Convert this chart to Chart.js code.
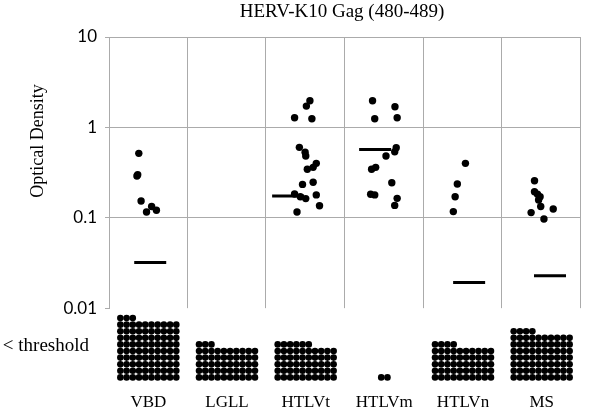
<!DOCTYPE html>
<html lang="en">
<head>
<meta charset="UTF-8">
<title>HERV-K10 Gag (480-489)</title>
<script src="https://cdn.jsdelivr.net/npm/chart.js"></script>
<style>
  html, body { margin: 0; padding: 0; background: #fff; }
  #wrap { width: 600px; height: 411px; }
</style>
</head>
<body>
<div id="wrap"><canvas id="odChart"></canvas></div>
<script>
// groups along the x axis
const categories = ['VBD', 'LGLL', 'HTLVt', 'HTLVm', 'HTLVn', 'MS'];

// optical density of responders, with the horizontal jitter (in category widths)
const vbdOD      = [0.516, 0.29, 0.30, 0.153, 0.116, 0.133, 0.121];
const vbdJitter  = [-0.121, -0.145, -0.135, -0.092, -0.023, 0.042, 0.103];
const lgllOD     = [];
const lgllJitter = [];
const htlvtOD     = [1.277, 1.72, 1.97, 1.245, 0.601, 0.530, 0.482, 0.344, 0.361, 0.400, 0.234, 0.247, 0.183, 0.171, 0.163, 0.179, 0.136, 0.116];
const htlvtJitter = [-0.141, 0.009, 0.054, 0.079, -0.080, -0.007, 0.001, 0.021, 0.095, 0.135, -0.040, 0.095, -0.141, -0.068, 0.001, 0.135, 0.176, -0.110];
const htlvmOD     = [1.97, 1.245, 1.69, 1.277, 0.596, 0.537, 0.482, 0.361, 0.344, 0.244, 0.182, 0.179, 0.164, 0.137];
const htlvmJitter = [-0.150, -0.122, 0.135, 0.163, 0.151, 0.132, 0.021, -0.110, -0.162, 0.095, -0.174, -0.122, 0.163, 0.132];
const htlvnOD     = [0.400, 0.236, 0.171, 0.117];
const htlvnJitter = [0.031, -0.072, -0.100, -0.123];
const msOD        = [0.257, 0.194, 0.182, 0.171, 0.157, 0.133, 0.114, 0.125, 0.097];
const msJitter    = [-0.091, -0.091, -0.053, -0.020, -0.039, -0.012, -0.134, 0.147, 0.029];

// medians (all samples, incl. below threshold) and their horizontal shift
const medians     = [0.032, null, 0.174, 0.571, 0.0192, 0.0228];
const medianShift = [0.024, 0, -0.223, -0.117, 0.078, 0.106];

// number of samples below threshold per group
const belowCounts = [93, 53, 56, 2, 54, 74];

const yTicks = [0.01, 0.1, 1, 10];
const yTickLabels = ['0.01', '0.1', '1', '10'];

const gridGray = '#ababab';
const serif = '"Liberation Serif", "Times New Roman", serif';
const sans = 'Lato, "Noto Sans", sans-serif';

const groups = [
  [vbdOD, vbdJitter], [lgllOD, lgllJitter], [htlvtOD, htlvtJitter],
  [htlvmOD, htlvmJitter], [htlvnOD, htlvnJitter], [msOD, msJitter]
];

const responders = [];
groups.forEach(([vals, jit], i) => {
  vals.forEach((v, k) => responders.push({x: i + 0.5 + jit[k], y: v}));
});

const medianPts = [];
medians.forEach((m, i) => {
  if (m !== null) medianPts.push({x: i + 0.5 + medianShift[i], y: m});
});

// dot stacks: 10 per row, filled from the bottom
const perRow = 10;
const colStep = 0.079;
const belowPts = [];
belowCounts.forEach((n, i) => {
  const w = Math.min(n, perRow);
  for (let k = 0; k < n; k++) {
    const col = k % perRow;
    const row = Math.floor(k / perRow);
    belowPts.push({x: i + 0.5 + (col - (w - 1) / 2) * colStep, y: row});
  }
});

const frame = {
  id: 'frame',
  beforeDatasetsDraw(chart) {
    const {ctx, scales: {x, y}} = chart;
    ctx.save();
    ctx.strokeStyle = gridGray;
    ctx.lineWidth = 1;
    for (let i = 1; i <= categories.length; i++) {
      const px = Math.round(x.getPixelForValue(i)) - 0.5;
      ctx.beginPath();
      ctx.moveTo(px, y.top);
      ctx.lineTo(px, y.bottom);
      ctx.stroke();
    }
    ctx.restore();
  },
  afterDraw(chart) {
    const {ctx} = chart;
    ctx.save();
    ctx.fillStyle = '#000';
    ctx.textAlign = 'center';
    ctx.textBaseline = 'middle';
    ctx.font = '19px ' + serif;
    ctx.fillText('HERV-K10 Gag (480-489)', 342, 12);
    ctx.translate(38, 141);
    ctx.rotate(-Math.PI / 2);
    ctx.font = '18px ' + serif;
    ctx.fillText('Optical Density', 0, 0);
    ctx.restore();
  }
};

new Chart(document.getElementById('odChart'), {
  type: 'scatter',
  data: {
    datasets: [
      {
        label: 'responders',
        data: responders,
        xAxisID: 'x', yAxisID: 'y',
        pointStyle: 'circle', pointRadius: 3.7,
        backgroundColor: '#000', borderWidth: 0
      },
      {
        label: 'median',
        data: medianPts,
        xAxisID: 'x', yAxisID: 'y',
        pointStyle: 'line', pointRadius: 16,
        borderColor: '#000', borderWidth: 3
      },
      {
        label: 'below threshold',
        data: belowPts,
        xAxisID: 'x', yAxisID: 'yT',
        pointStyle: 'circle', pointRadius: 3.3,
        backgroundColor: '#000', borderWidth: 0
      }
    ]
  },
  options: {
    responsive: true,
    maintainAspectRatio: false,
    animation: false,
    layout: { padding: { top: 37, right: 2, left: 0, bottom: 0 } },
    plugins: {
      legend: { display: false },
      tooltip: { enabled: false },
      title: { display: false }
    },
    scales: {
      x: {
        type: 'linear', min: 0, max: 6,
        afterBuildTicks: s => { s.ticks = categories.map((c, i) => ({value: i + 0.5})); },
        ticks: {
          callback: (v, i) => categories[i],
          font: { family: serif, size: 17 }, color: '#000',
          padding: 8, autoSkip: false, maxRotation: 0
        },
        grid: { display: false, drawTicks: false },
        border: { display: false },
        afterFit: s => { s.height = 27; }
      },
      // listed before y so that the stack puts it underneath
      yT: {
        type: 'linear', position: 'left',
        stack: 'od', stackWeight: 75.9,
        min: -1, max: 10.5,
        afterBuildTicks: s => { s.ticks = [{value: (s.min + s.max) / 2}]; },
        ticks: {
          callback: () => '< threshold',
          font: { family: serif, size: 19 }, color: '#000', padding: 20
        },
        grid: { display: false, drawTicks: false },
        border: { display: false },
        afterFit: s => { s.width = 109; s.paddingTop = 0; s.paddingBottom = 0; }
      },
      y: {
        type: 'logarithmic', position: 'left',
        stack: 'od', stackWeight: 271.3,
        min: 0.01, max: 10,
        afterBuildTicks: s => { s.ticks = yTicks.map(v => ({value: v})); },
        ticks: {
          callback: (v, i) => yTickLabels[i],
          font: { family: sans, size: 17 }, color: '#000', padding: 8
        },
        grid: {
          color: c => (c.tick && c.tick.value === 0.01) ? 'rgba(0,0,0,0)' : gridGray,
          tickColor: gridGray, tickLength: 4
        },
        border: { display: true, color: gridGray },
        afterFit: s => { s.width = 109; }
      }
    }
  },
  plugins: [frame]
});
</script>
</body>
</html>
